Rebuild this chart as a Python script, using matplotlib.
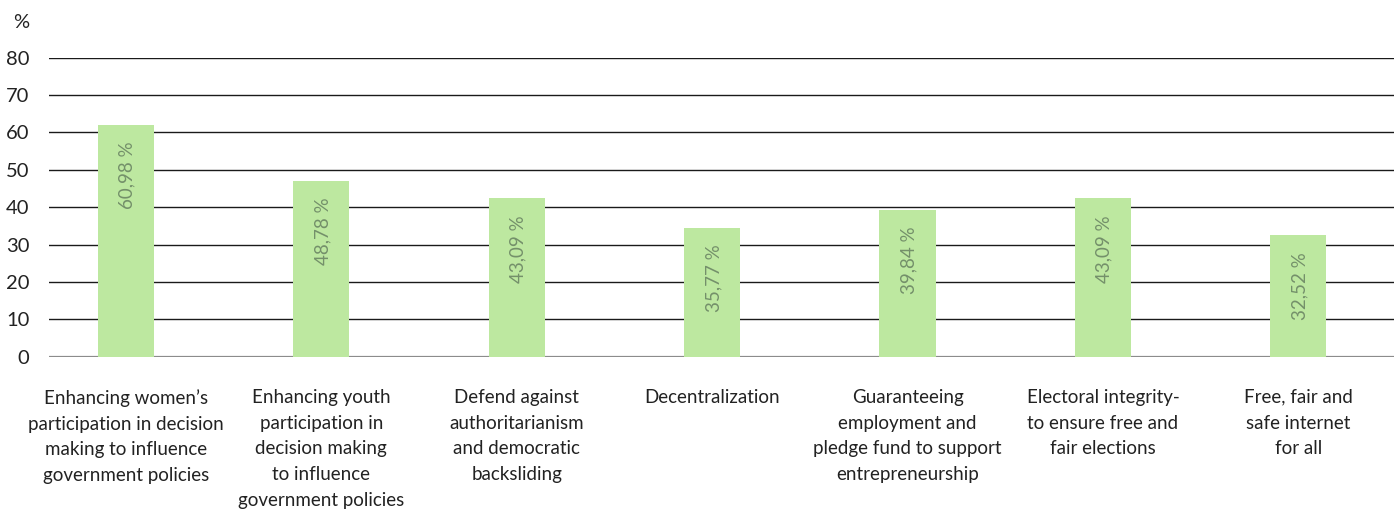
import matplotlib
matplotlib.use("Agg")
import matplotlib.pyplot as plt

plt.rcParams["font.family"] = ["Lato", "DejaVu Sans"]

BAR_GREEN = "#bde8a0"
LABEL_GREEN = "#74906a"
TEXT = "#222222"

categories = [
    "Enhancing women\u2019s\nparticipation in decision\nmaking to influence\ngovernment policies",
    "Enhancing youth\nparticipation in\ndecision making\nto influence\ngovernment policies",
    "Defend against\nauthoritarianism\nand democratic\nbacksliding",
    "Decentralization",
    "Guaranteeing\nemployment and\npledge fund to support\nentrepreneurship",
    "Electoral integrity-\nto ensure free and\nfair elections",
    "Free, fair and\nsafe internet\nfor all",
]
# bar heights as drawn in the picture
heights = [62.0, 47.0, 42.4, 34.5, 39.3, 42.4, 32.5]
# value labels as printed on the bars
value_labels = ["60,98 %", "48,78 %", "43,09 %", "35,77 %", "39,84 %", "43,09 %", "32,52 %"]
yticks = [0, 10, 20, 30, 40, 50, 60, 70, 80]

fig = plt.figure(figsize=(13.94, 5.16), dpi=100)
ax = fig.add_axes([49 / 1394, 1 - 356.7 / 516, 1 - 49 / 1394, (356.7 - 57.7) / 516])

x = list(range(len(categories)))
ax.bar(x, heights, width=0.287, color=BAR_GREEN, zorder=3)

for xi, h, lab in zip(x, heights, value_labels):
    ax.annotate(lab, (xi, h), xytext=(1, -12), textcoords="offset points",
                rotation=90, ha="center", va="top", fontsize=13.5,
                color=LABEL_GREEN, zorder=4)

for t in yticks[1:]:
    ax.axhline(t, color="#1a1a1a", linewidth=1.0, zorder=1)
ax.axhline(0, color="#8c8c8c", linewidth=1.6, zorder=2)

ax.set_xlim(-0.394, 6.49)
ax.set_ylim(0, 80)
ax.set_yticks(yticks)
ax.set_yticklabels([str(t) for t in yticks], fontsize=14.5, color=TEXT)
ax.tick_params(axis="y", length=0, pad=14)
ax.set_xticks([])
for s in ax.spines.values():
    s.set_visible(False)

for xi, cat in zip(x, categories):
    ax.text(xi, -8.6, cat, ha="center", va="top", fontsize=13.5,
            color=TEXT, linespacing=1.63, clip_on=False)

fig.text(21 / 1394, 1 - 23 / 516, "%", ha="center", va="center",
         fontsize=14.5, color=TEXT)

fig.savefig("out.png", dpi=100, facecolor="white")
